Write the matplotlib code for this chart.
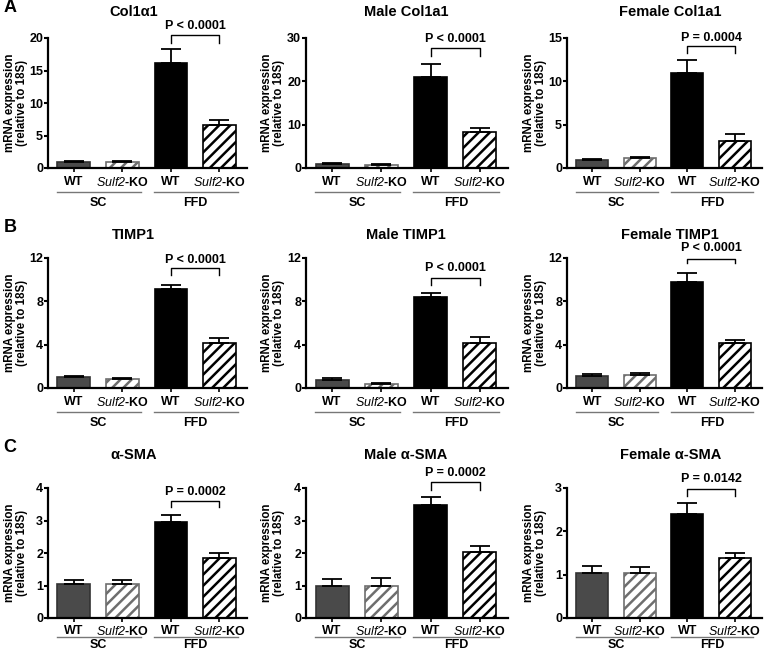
import matplotlib
matplotlib.use("Agg")
import matplotlib.pyplot as plt
import numpy as np

plt.rcParams["font.family"] = ["Liberation Sans", "DejaVu Sans"]
plt.rcParams["font.weight"] = "bold"
plt.rcParams["mathtext.fontset"] = "custom"
# only used for the italic gene name (digits included)
plt.rcParams["mathtext.it"] = "Liberation Sans:style=italic:weight=normal"
plt.rcParams["mathtext.rm"] = "Liberation Sans:style=italic:weight=normal"
plt.rcParams["hatch.linewidth"] = 1.8

# ── Data ───────────────────────────────────────────────────────────────────────
groups = ["WT", r"$\mathrm{Sulf2}$-KO", "WT", r"$\mathrm{Sulf2}$-KO"]
diets  = ["SC", "FFD"]

titles = [
    "Col1α1", "Male Col1a1", "Female Col1a1",
    "TIMP1", "Male TIMP1", "Female TIMP1",
    "α-SMA", "Male α-SMA", "Female α-SMA",
]

col1a1_mean        = [1.0, 1.0, 16.2, 6.55]
col1a1_err         = [0.12, 0.12, 2.05, 0.9]
male_col1a1_mean   = [1.0, 0.7, 21.1, 8.2]
male_col1a1_err    = [0.25, 0.25, 2.8, 1.0]
female_col1a1_mean = [0.95, 1.15, 10.95, 3.1]
female_col1a1_err  = [0.1, 0.12, 1.55, 0.85]

timp1_mean         = [1.05, 0.83, 9.1, 4.2]
timp1_err          = [0.1, 0.13, 0.45, 0.37]
male_timp1_mean    = [0.74, 0.37, 8.43, 4.12]
male_timp1_err     = [0.18, 0.12, 0.37, 0.58]
female_timp1_mean  = [1.14, 1.17, 9.78, 4.15]
female_timp1_err   = [0.15, 0.18, 0.82, 0.28]

asma_mean          = [1.05, 1.05, 2.96, 1.85]
asma_err           = [0.12, 0.11, 0.22, 0.14]
male_asma_mean     = [1.0, 1.0, 3.48, 2.03]
male_asma_err      = [0.21, 0.22, 0.25, 0.19]
female_asma_mean   = [1.05, 1.03, 2.39, 1.38]
female_asma_err    = [0.14, 0.14, 0.26, 0.11]

means = [col1a1_mean, male_col1a1_mean, female_col1a1_mean,
         timp1_mean, male_timp1_mean, female_timp1_mean,
         asma_mean, male_asma_mean, female_asma_mean]
errs  = [col1a1_err, male_col1a1_err, female_col1a1_err,
         timp1_err, male_timp1_err, female_timp1_err,
         asma_err, male_asma_err, female_asma_err]

y_max  = [20, 30, 15, 12, 12, 12, 4, 4, 3]
y_step = [5, 10, 5, 4, 4, 4, 1, 1, 1]

p_texts = ["P < 0.0001", "P < 0.0001", "P = 0.0004",
           "P < 0.0001", "P < 0.0001", "P < 0.0001",
           "P = 0.0002", "P = 0.0002", "P = 0.0142"]

# bracket (top, leg end, label centre) in data units
brackets = [(20.4, 19.2, 21.8), (27.7, 25.9, 29.7), (14.1, 13.25, 15.0),
            (11.07, 10.4, 11.8), (10.15, 9.5, 11.1), (11.95, 11.5, 12.9),
            (3.61, 3.42, 3.88), (4.18, 3.95, 4.45), (2.98, 2.82, 3.21)]

panel_letters = ["A", "B", "C"]

# ── Layout (pixels) ───────────────────────────────────────────────────────────
W, H = 766, 656
col_left   = [48, 306, 567]
col_width  = [199, 202, 195]
col_ylab   = [-32, -33, -32]
col_title  = [0.43, 0.495, 0.53]
row_bottom = [168, 388, 618]
row_title  = [26, 23, 33]
row_tickpad = [3, 3, 2]
row_gline  = [24, 24, 19]
row_glabel = [35, 35, 27]
AX_H = 130

face  = ["#4a4a4a", "white", "black", "white"]
edge  = ["#333333", "#6e6e6e", "black", "black"]
hatch = [None, "///", None, "///"]

fig = plt.figure(figsize=(W / 100, H / 100), dpi=100)

for k in range(9):
    r, c = divmod(k, 3)
    ax = fig.add_axes([col_left[c] / W, 1 - row_bottom[r] / H,
                       col_width[c] / W, AX_H / H])
    x = np.arange(4)
    for i in range(4):
        ax.bar(x[i], means[k][i], width=0.67, color=face[i], edgecolor=edge[i],
               hatch=hatch[i], linewidth=1.2, zorder=2)
    ax.errorbar(x, means[k], yerr=[np.zeros(4), errs[k]], fmt="none",
                ecolor="black", elinewidth=1.3, capsize=7, capthick=1.3, zorder=3)

    ax.set_xlim(-0.53, 3.57)
    ax.set_ylim(0, y_max[k])
    ax.set_yticks(np.arange(0, y_max[k] + y_step[k] / 2, y_step[k]))
    ax.set_xticks(x)
    ax.set_xticklabels(groups)
    for s in ("top", "right"):
        ax.spines[s].set_visible(False)
    for s in ("left", "bottom"):
        ax.spines[s].set_linewidth(1.6)
    ax.tick_params(axis="y", length=3, width=1.5, labelsize=9, pad=0.5)
    ax.tick_params(axis="x", length=3, width=1.2, labelsize=9,
                   pad=row_tickpad[r])

    # diet group lines + labels
    tr = ax.get_xaxis_transform()
    gy = -row_gline[r] / AX_H
    ly = -row_glabel[r] / AX_H
    for g, name in enumerate(diets):
        x0, x1 = 2 * g - 0.35, 2 * g + 1 + 0.38
        ax.plot([x0, x1], [gy, gy], transform=tr, color="#777777",
                lw=1.0, clip_on=False)
        ax.text((x0 + x1) / 2, ly, name, transform=tr, ha="center",
                va="center", fontsize=9, fontweight="bold")

    # significance bracket
    top, leg, ty = brackets[k]
    ax.plot([2, 2, 3, 3], [leg, top, top, leg], color="black", lw=1.0,
            clip_on=False)
    ax.text(2.5, ty, p_texts[k], ha="center", va="center", fontsize=9,
            fontweight="bold")

    ax.text(col_title[c], 1 + row_title[r] / AX_H, titles[k],
            transform=ax.transAxes, ha="center", va="center",
            fontsize=10.5, fontweight="bold")
    ax.text(col_ylab[c] / col_width[c], 0.5, "mRNA expression\n(relative to 18S)",
            transform=ax.transAxes, rotation=90, ha="center", va="center",
            fontsize=8.3, fontweight="bold", linespacing=1.05)

for r, letter in enumerate(panel_letters):
    fig.text(10 / W, 1 - (8 + 220 * r) / H, letter, ha="center", va="center",
             fontsize=13, fontweight="bold")

fig.savefig("out.png", dpi=100)
